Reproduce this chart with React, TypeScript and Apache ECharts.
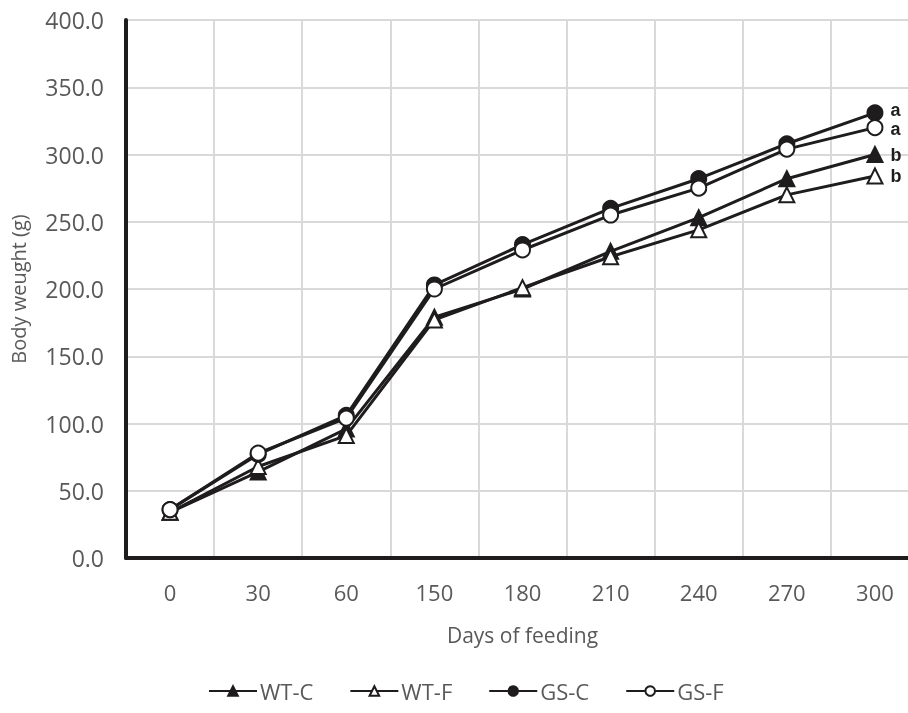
import React, { useEffect, useRef } from "react";
import * as echarts from "echarts";

const categories = ["0", "30", "60", "150", "180", "210", "240", "270", "300"];
const wtC = [34, 64, 96, 179, 200, 228, 253, 282, 300];
const wtF = [34, 68, 91, 177, 201, 224, 244, 270, 284];
const gsC = [36, 77, 106, 203, 233, 260, 282, 308, 331];
const gsF = [36, 78, 104, 200, 229, 255, 275, 304, 320];
const endLabels = ["b", "b", "a", "a"]; // WT-C, WT-F, GS-C, GS-F
const yTicks = { min: 0, max: 400, interval: 50 };

const INK = "#1e1c1d";
const TEXT = "#595959";
const FONT = "Open Sans";

function withEndLabel(values: number[], label: string, dy: number) {
  return values.map((v, i) =>
    i === values.length - 1
      ? {
          value: v,
          label: {
            show: true,
            position: "right",
            distance: 7,
            offset: [0, dy],
            formatter: label,
            fontFamily: "Liberation Sans",
            fontWeight: "bold",
            fontSize: 18,
            color: INK,
          },
        }
      : v
  );
}

export default function App() {
  const ref = useRef<HTMLDivElement>(null);
  useEffect(() => {
    if (!ref.current) return;
    const chart = echarts.init(ref.current, undefined, { renderer: "svg" });
    const mk = (name: string, data: number[], label: string, dy: number, symbol: string, filled: boolean, z: number) => ({
      name,
      type: "line",
      data: withEndLabel(data, label, dy),
      symbol,
      symbolSize: 15,
      z,
      lineStyle: { color: INK, width: 3 },
      itemStyle: { color: filled ? INK : "#ffffff", borderColor: INK, borderWidth: 2 },
      emphasis: { disabled: true },
    });
    chart.setOption({
      animation: false,
      grid: { left: 119, width: 800, top: 20, bottom: 155, containLabel: false },
      legend: {
        bottom: 6,
        left: 203,
        itemWidth: 48,
        itemHeight: 12,
        itemGap: 36,
        textStyle: { fontFamily: FONT, fontSize: 22, color: TEXT, padding: [0, 0, 0, -2] },
        data: ["WT-C", "WT-F", "GS-C", "GS-F"],
      },
      xAxis: {
        type: "category",
        data: categories,
        boundaryGap: true,
        name: "Days of feeding",
        nameLocation: "middle",
        nameGap: 66,
        nameTextStyle: { fontFamily: FONT, fontSize: 21, color: TEXT },
        axisLine: { lineStyle: { color: INK, width: 4 } },
        axisTick: { show: false },
        axisLabel: { fontFamily: FONT, fontSize: 22, color: TEXT, margin: 23 },
        splitLine: { show: true, lineStyle: { color: "#d9d9d9", width: 2 } },
      },
      yAxis: {
        type: "value",
        min: yTicks.min,
        max: yTicks.max,
        interval: yTicks.interval,
        name: "Body weught (g)",
        nameLocation: "middle",
        nameGap: 98,
        nameTextStyle: { fontFamily: FONT, fontSize: 20, color: TEXT },
        axisLine: { show: true, lineStyle: { color: INK, width: 4 } },
        axisTick: { show: false },
        axisLabel: {
          fontFamily: FONT,
          fontSize: 23,
          color: TEXT,
          margin: 22,
          formatter: (v: number) => v.toFixed(1),
        },
        splitLine: { show: true, lineStyle: { color: "#d9d9d9", width: 2 } },
      },
      series: [
        mk("WT-C", wtC, endLabels[0], 0, "triangle", true, 2),
        mk("WT-F", wtF, endLabels[1], 0, "triangle", false, 3),
        mk("GS-C", gsC, endLabels[2], -3, "circle", true, 4),
        mk("GS-F", gsF, endLabels[3], 1, "circle", false, 5),
      ],
    });
    return () => chart.dispose();
  }, []);
  return <div ref={ref} style={{ position: "fixed", left: 0, top: 0, width: 930, height: 713 }} />;
}
